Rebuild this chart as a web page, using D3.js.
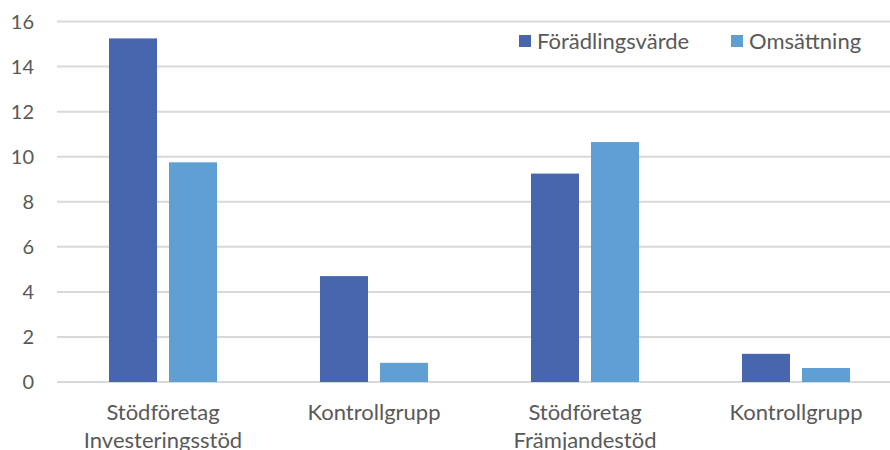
<!DOCTYPE html>
<meta charset="utf-8">
<style>
  body { margin: 0; background: #fff; }
  text { font-family: Lato, "Open Sans", sans-serif; fill: #595959; }
</style>
<svg width="890" height="450"></svg>
<script src="https://d3js.org/d3.v7.min.js"></script>
<script>
// data
var categories = [['Stödföretag', 'Investeringsstöd'], ['Kontrollgrupp'], ['Stödföretag', 'Främjandestöd'], ['Kontrollgrupp']]
var series = ['Förädlingsvärde', 'Omsättning']
var foradlingsvarde = [15.25, 4.7, 9.25, 1.25]
var omsattning = [9.75, 0.85, 10.65, 0.62]
var yTicks = [0, 2, 4, 6, 8, 10, 12, 14, 16]
var colors = ['#4866ae', '#5f9fd3']

var svg = d3.select('svg')
var catIds = categories.map((c, i) => i)

var x = d3.scaleBand().domain(catIds).range([57.5, 901.5]).padding(0)
var x1 = d3.scaleBand().domain(series)
  .range([x.bandwidth() / 2 - 54, x.bandwidth() / 2 + 54])
  .paddingInner(0.2)
var y = d3.scaleLinear().domain([0, 16]).range([382, 21.5])

// gridlines
svg.append('g').selectAll('line').data(yTicks).enter().append('line')
  .attr('x1', 57).attr('x2', 890)
  .attr('y1', d => y(d)).attr('y2', d => y(d))
  .attr('stroke', '#d9d9d9').attr('stroke-width', 2)

// y tick labels
svg.append('g').selectAll('text').data(yTicks).enter().append('text')
  .attr('x', 34).attr('y', d => y(d))
  .attr('dy', '0.35em')
  .attr('text-anchor', 'end')
  .attr('font-size', 20)
  .text(d => d)

// bars
var rows = catIds.map(i => [foradlingsvarde[i], omsattning[i]])
var groups = svg.append('g').selectAll('g').data(rows).enter().append('g')
  .attr('transform', (d, i) => 'translate(' + x(i) + ',0)')
groups.selectAll('rect').data(d => d.map((v, j) => ({ s: series[j], v: v, j: j })))
  .enter().append('rect')
  .attr('x', d => x1(d.s))
  .attr('width', x1.bandwidth())
  .attr('y', d => y(d.v))
  .attr('height', d => y(0) - y(d.v))
  .attr('fill', d => colors[d.j])

// category labels
var labels = svg.append('g').selectAll('text').data(categories).enter().append('text')
  .attr('text-anchor', 'middle')
  .attr('font-size', 22)
  .attr('transform', (d, i) => 'translate(' + (x(i) + x.bandwidth() / 2) + ',420)')
labels.selectAll('tspan').data(d => d).enter().append('tspan')
  .attr('x', 0).attr('y', (d, k) => k * 28)
  .text(d => d)

// legend
var legendX = [519, 731]
var legend = svg.append('g').selectAll('g').data(series).enter().append('g')
  .attr('transform', (d, i) => 'translate(' + legendX[i] + ',35)')
legend.append('rect').attr('width', 12).attr('height', 12).attr('fill', (d, i) => colors[i])
legend.append('text').attr('x', 18).attr('y', 6).attr('dy', '0.35em')
  .attr('font-size', 22).text(d => d)
</script>
